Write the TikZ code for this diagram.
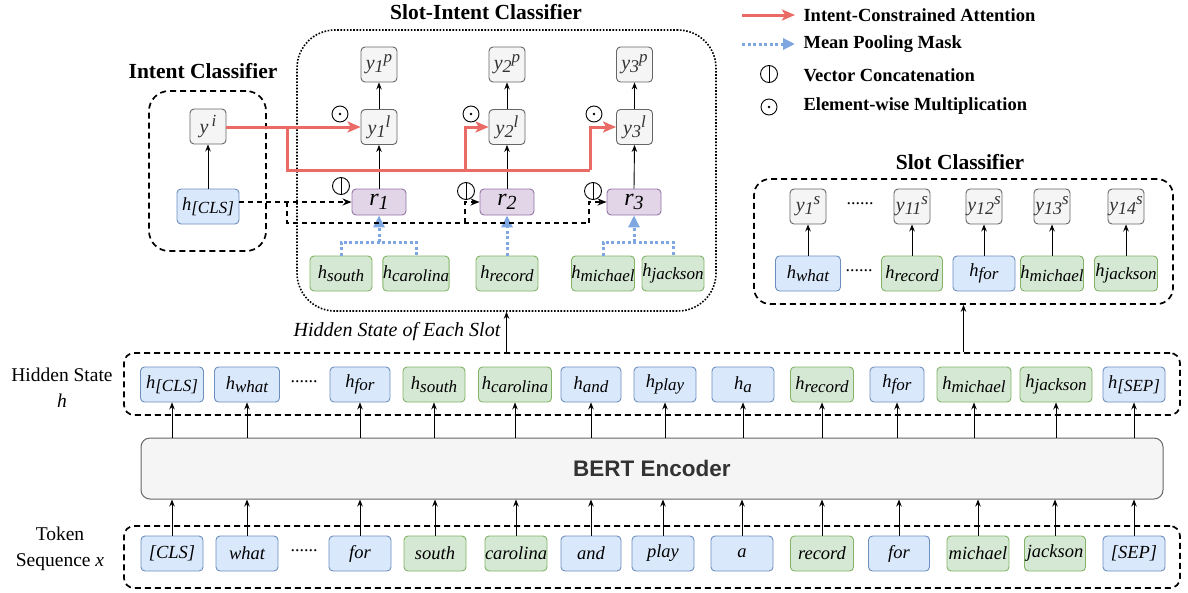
\documentclass[tikz,border=0pt]{standalone}
\usepackage{fontspec}
\setmainfont{Liberation Serif}[ItalicFont={Liberation Serif Italic}, BoldFont={Liberation Serif Bold}, BoldItalicFont={Liberation Serif Bold Italic}]
\setsansfont{Liberation Sans}[BoldFont={Liberation Sans Bold}]
\usetikzlibrary{arrows.meta}
\definecolor{bluef}{HTML}{DAE8FC}
\definecolor{blued}{HTML}{6C8EBF}
\definecolor{greenf}{HTML}{D5E8D4}
\definecolor{greend}{HTML}{82B366}
\definecolor{purf}{HTML}{E1D5E7}
\definecolor{purd}{HTML}{9673A6}
\definecolor{grayf}{HTML}{F5F5F5}
\definecolor{grayd}{HTML}{666666}
\definecolor{redl}{HTML}{EA6B66}
\definecolor{bluel}{HTML}{7EA6E0}
\definecolor{txtd}{HTML}{333333}
\newcommand\hsb[1]{h\raisebox{-3.5pt}{\fontsize{17}{17}\selectfont #1}}
\newcommand\ysb[2]{{\fontsize{20}{20}\selectfont y}\raisebox{-3pt}{\fontsize{18}{18}\selectfont #1}\raisebox{7pt}{\fontsize{17}{17}\selectfont #2}}
\newcommand\rsb[1]{{\fontsize{24}{24}\selectfont r}\raisebox{-4pt}{\fontsize{20}{20}\selectfont #1}}
\tikzset{
  box/.style={draw, rounded corners=4pt, minimum height=35pt, inner sep=0pt, line width=0.9pt, font=\fontsize{18.5}{20}\selectfont\itshape},
  bbox/.style={box, fill=bluef, draw=blued},
  gbox/.style={box, fill=greenf, draw=greend},
  ybox/.style={box, fill=grayf, draw=grayd, minimum width=36pt, text=txtd},
  pbox/.style={box, fill=purf, draw=purd, minimum width=54pt, minimum height=26pt},
  arr/.style={-{Stealth[length=7pt,width=5.5pt]}, line width=0.9pt},
  grp/.style={draw, line width=1.7pt, dash pattern=on 6pt off 4pt, inner sep=0pt},
  dotgrp/.style={draw, line width=1.6pt, dash pattern=on 1.6pt off 1.6pt, inner sep=0pt},
  redln/.style={draw=redl, line width=3pt},
  redarr/.style={redln, -{Stealth[length=13pt,width=11pt,inset=3pt]}},
  bluedot/.style={draw=bluel, line width=3pt, dash pattern=on 3pt off 2.5pt},
  bluearr/.style={bluedot, -{Triangle[length=12pt,width=11pt,fill=bluel]}},
  dsh/.style={line width=1.5pt, dash pattern=on 5pt off 4pt},
  dsharr/.style={dsh, -{Stealth[length=9pt,width=7pt]}},
  ttl/.style={font=\fontsize{21.5}{24}\selectfont\bfseries},
  leg/.style={font=\fontsize{18.5}{20}\selectfont\bfseries, anchor=west},
  lab/.style={font=\fontsize{19.5}{26}\selectfont},
  dots/.style={font=\fontsize{18}{20}\selectfont},
  pics/odotsym/.style={code={\draw[line width=0.9pt] (0,0) circle[radius=8pt]; \fill (0,0) circle[radius=1.4pt];}},
  pics/catsym/.style={code={\draw[line width=0.9pt] (0,0) circle[radius=8.5pt]; \draw[line width=0.9pt] (0,-8.5) -- (0,8.5);}}
}
\begin{document}
\begin{tikzpicture}[x=1pt,y=-1pt]
\useasboundingbox (0,0) rectangle (1188,592);

% group boxes
\node[grp, rounded corners=10pt, minimum width=1056pt, minimum height=62pt] (hidbox) at (652,384) {};
\node[grp, rounded corners=10pt, minimum width=1056pt, minimum height=62pt] (tokbox) at (652,557) {};
\node[grp, rounded corners=20pt, minimum width=117pt, minimum height=160pt] (intbox) at (207.5,171) {};
\node[dotgrp, rounded corners=38pt, minimum width=419pt, minimum height=281pt] (sibox) at (506.5,170.5) {};
\node[grp, rounded corners=16pt, minimum width=419pt, minimum height=125pt] (scbox) at (963.5,241.5) {};

% titles
\node[ttl] (t1) at (486,12) {Slot-Intent Classifier};
\node[ttl] (t2) at (203,71) {Intent Classifier};
\node[ttl] (t3) at (960,162) {Slot Classifier};

% left labels
\node[lab, align=center] (lh) at (62,388) {Hidden State\\\textit{h}};
\node[lab, align=center] (lt) at (60,549) {Token\\Sequence \textit{x}};

% BERT
\node[draw=grayd, fill=grayf, rounded corners=9pt, minimum width=1022pt, minimum height=61pt, line width=1pt,
      font=\sffamily\bfseries\fontsize{22.5}{24}\selectfont, text=txtd] (bert) at (652,468.5) {BERT Encoder};

% token row
\node[bbox, minimum width=62pt] (tk1) at (172,553.5) {[CLS]};
\node[bbox, minimum width=62pt] (tk2) at (247,553.5) {what};
\node[bbox, minimum width=62pt] (tk3) at (360,553.5) {for};
\node[gbox, minimum width=62pt] (tk4) at (435,553.5) {south};
\node[gbox, minimum width=62pt] (tk5) at (516,553.5) {carolina};
\node[bbox, minimum width=60pt] (tk6) at (591,553.5) {and};
\node[bbox, minimum width=62pt] (tk7) at (663,553.5) {play};
\node[bbox, minimum width=62pt] (tk8) at (742,553.5) {a};
\node[gbox, minimum width=63pt] (tk9) at (822,553.5) {record};
\node[bbox, minimum width=61pt] (tk10) at (899,553.5) {for};
\node[gbox, minimum width=62pt] (tk11) at (978,553.5) {michael};
\node[gbox, minimum width=61pt] (tk12) at (1055,553.5) {jackson};
\node[bbox, minimum width=62pt] (tk13) at (1134,553.5) {[SEP]};
\node[dots] (dt1) at (304,551) {......};

% hidden row
\node[bbox, minimum width=63pt] (hh1) at (172,384.5) {\hsb{[CLS]}};
\node[bbox, minimum width=65pt] (hh2) at (247,384.5) {\hsb{what}};
\node[bbox, minimum width=60pt] (hh3) at (360,384.5) {\hsb{for}};
\node[gbox, minimum width=62pt] (hh4) at (434,384.5) {\hsb{south}};
\node[gbox, minimum width=73pt] (hh5) at (515,384.5) {\hsb{carolina}};
\node[bbox, minimum width=60pt] (hh6) at (591,384.5) {\hsb{and}};
\node[bbox, minimum width=62pt] (hh7) at (665,384.5) {\hsb{play}};
\node[bbox, minimum width=62pt] (hh8) at (743,384.5) {\hsb{a}};
\node[gbox, minimum width=63pt] (hh9) at (822,384.5) {\hsb{record}};
\node[bbox, minimum width=54pt] (hh10) at (897,384.5) {\hsb{for}};
\node[gbox, minimum width=74pt] (hh11) at (974,384.5) {\hsb{michael}};
\node[gbox, minimum width=72pt] (hh12) at (1056,384.5) {\hsb{jackson}};
\node[bbox, minimum width=62pt] (hh13) at (1134,384.5) {\hsb{[SEP]}};
\node[dots] (dt2) at (304,382) {......};

\foreach \i in {1,...,13} {
  \draw[arr] (tk\i.north) -- (tk\i.north |- bert.south);
  \draw[arr] (hh\i.south |- bert.north) -- (hh\i.south);
}

% arrows to classifiers
\draw[arr] (sibox.south |- hidbox.north) -- (sibox.south);
\draw[arr] (scbox.south |- hidbox.north) -- (scbox.south);
\node[font=\fontsize{20}{22}\selectfont\itshape] (hsl) at (397,332) {Hidden State of Each Slot};

% slot classifier
\node[bbox, minimum width=65pt] (sh1) at (808,273.5) {\hsb{what}};
\node[gbox, minimum width=61pt] (sh2) at (912,273.5) {\hsb{record}};
\node[bbox, minimum width=62pt] (sh3) at (984,273.5) {\hsb{for}};
\node[gbox, minimum width=62pt] (sh4) at (1052,273.5) {\hsb{michael}};
\node[gbox, minimum width=63pt] (sh5) at (1126,273.5) {\hsb{jackson}};
\node[ybox] (sy1) at (808,206.5) {\ysb{1}{s}};
\node[ybox] (sy2) at (912,206.5) {\ysb{11}{s}};
\node[ybox] (sy3) at (984,206.5) {\ysb{12}{s}};
\node[ybox] (sy4) at (1052,206.5) {\ysb{13}{s}};
\node[ybox] (sy5) at (1126,206.5) {\ysb{14}{s}};
\node[dots] (dt3) at (860,204) {......};
\node[dots] (dt4) at (859,271) {......};
\foreach \i in {1,...,5} {\draw[arr] (sh\i.north) -- (sy\i.south);}

% intent classifier
\node[ybox] (yi) at (208,126.5) {{\fontsize{20}{20}\selectfont y}\,\raisebox{7pt}{\fontsize{17}{17}\selectfont i}};
\node[bbox, minimum width=62pt] (hcls) at (208,206.5) {\hsb{[CLS]}};
\draw[arr] (hcls.north) -- (yi.south);

% slot-intent classifier
\node[gbox, minimum width=62pt] (gs1) at (341,273.5) {\hsb{south}};
\node[gbox, minimum width=62pt] (gs2) at (416,273.5) {\hsb{carolina}};
\node[gbox, minimum width=62pt] (gs3) at (507,273.5) {\hsb{record}};
\node[gbox, minimum width=62pt] (gs4) at (603,273.5) {\hsb{michael}};
\node[gbox, minimum width=62pt] (gs5) at (673,273.5) {\hsb{jackson}};
\node[pbox] (r1) at (379,202) {\rsb{1}};
\node[pbox] (r2) at (507,202) {\rsb{2}};
\node[pbox] (r3) at (634,202) {\rsb{3}};
\node[ybox] (yl1) at (379,127) {\ysb{1}{l}};
\node[ybox] (yl2) at (507,127) {\ysb{2}{l}};
\node[ybox] (yl3) at (634.5,127) {\ysb{3}{l}};
\node[ybox] (yp1) at (379,64.5) {\ysb{1}{p}};
\node[ybox] (yp2) at (507,64.5) {\ysb{2}{p}};
\node[ybox] (yp3) at (634.5,64.5) {\ysb{3}{p}};
\draw[arr] (r1.north) -- (yl1.south);
\draw[arr] (r2.north) -- (yl2.south);
\draw[arr] (r3.north) -- (yl3.south);
\draw[arr] (yl1.north) -- (yp1.south);
\draw[arr] (yl2.north) -- (yp2.south);
\draw[arr] (yl3.north) -- (yp3.south);

% mean pooling
\coordinate (b1) at (379,242);
\coordinate (b3) at (634,242);
\draw[bluedot] (gs1.north) |- (b1) -| (gs2.north);
\draw[bluearr] (b1) -- (r1.south);
\draw[bluearr] (gs3.north) -- (r2.south);
\draw[bluedot] (gs4.north) |- (b3) -| (gs5.north);
\draw[bluearr] (b3) -- (r3.south);

% dashed concat lines
\coordinate (dA) at (287,202);
\coordinate (dB) at (287,223);
\coordinate (dC) at (465,223);
\coordinate (dD) at (589,223);
\draw[dsharr] (hcls.east |- r1.west) -- (r1.west);
\draw[dsh] (dA) -- (dB) -- (dD);
\draw[dsharr] (dC) |- (r2.west);
\draw[dsharr] (dD) |- (r3.west);

% red attention lines
\coordinate (rA) at (287,127);
\coordinate (rB) at (287,170);
\coordinate (rC) at (465,170);
\coordinate (rD) at (590,170);
\draw[redarr] (yi.east |- yl1.west) -- (yl1.west);
\draw[redln, line join=miter] (rA) -- (rB) -- (rD);
\draw[redarr] (rC) |- (yl2.west);
\draw[redarr] (rD) |- (yl3.west);

% symbols
\pic at (340,114) {odotsym};
\pic at (471,114) {odotsym};
\pic at (594,114) {odotsym};
\pic at (341,186) {catsym};
\pic at (466,191) {catsym};
\pic at (593,191) {catsym};

% legend
\coordinate (la1) at (742,15);
\coordinate (la2) at (795,15);
\coordinate (lb1) at (742,44);
\coordinate (lb2) at (795,44);
\draw[redarr] (la1) -- (la2);
\draw[bluearr] (lb1) -- (lb2);
\pic at (769,74) {catsym};
\pic at (769,107) {odotsym};
\node[leg] (lg1) at (800,15) {Intent-Constrained Attention};
\node[leg] (lg2) at (800,44) {Mean Pooling Mask};
\node[leg] (lg3) at (800,75) {Vector Concatenation};
\node[leg] (lg4) at (800,106) {Element-wise Multiplication};
\end{tikzpicture}
\end{document}
